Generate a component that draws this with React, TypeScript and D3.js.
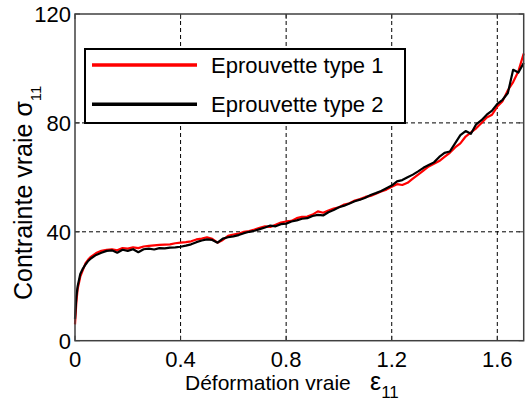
import React from "react";
import * as d3 from "d3";

const strain = [0, 0.005, 0.01, 0.02, 0.03, 0.04, 0.05, 0.06, 0.08, 0.1, 0.12, 0.14, 0.16, 0.18, 0.2, 0.22, 0.24, 0.26, 0.28, 0.3, 0.32, 0.34, 0.36, 0.38, 0.4, 0.42, 0.44, 0.46, 0.48, 0.5, 0.52, 0.54, 0.56, 0.58, 0.6, 0.62, 0.64, 0.66, 0.68, 0.7, 0.72, 0.74, 0.76, 0.78, 0.8, 0.82, 0.84, 0.86, 0.88, 0.9, 0.92, 0.94, 0.96, 0.98, 1.0, 1.02, 1.04, 1.06, 1.08, 1.1, 1.12, 1.14, 1.16, 1.18, 1.2, 1.22, 1.24, 1.26, 1.28, 1.3, 1.32, 1.34, 1.36, 1.38, 1.4, 1.42, 1.44, 1.46, 1.48, 1.5, 1.52, 1.54, 1.56, 1.58, 1.6, 1.62, 1.64, 1.66, 1.68, 1.7];

const stressType1 = [6, 14, 19, 23.5, 26, 28.5, 29.8, 30.8, 32.2, 33.0, 33.4, 33.6, 33.2, 34.0, 33.8, 34.3, 34.0, 34.6, 34.8, 35.0, 35.2, 35.3, 35.4, 35.8, 36.0, 36.2, 36.5, 37.2, 37.5, 38.0, 37.4, 36.0, 37.0, 38.5, 39.0, 39.3, 40.0, 40.3, 40.8, 41.5, 42.0, 41.8, 42.6, 43.4, 43.8, 44.0, 45.0, 45.5, 45.6, 46.3, 47.5, 47.0, 47.8, 48.5, 49.0, 50.0, 50.5, 51.5, 52.0, 52.8, 53.2, 54.0, 54.8, 55.5, 56.5, 57.5, 57.2, 58.0, 59.5, 61.0, 62.5, 64.0, 65.0, 66.0, 67.5, 69.0, 71.0, 72.5, 75.0, 76.5, 78.0, 80.0, 82.0, 83.0, 86.0, 88.0, 92.0, 95.0, 99.0, 105.5];

const stressType2 = [8, 16, 20, 24.5, 26.5, 28, 29.3, 30.2, 31.5, 32.3, 33.0, 33.2, 32.3, 33.4, 33.0, 33.6, 32.5, 33.6, 33.8, 33.5, 34.0, 33.9, 34.2, 34.3, 34.5, 34.9, 35.4, 36.2, 36.8, 37.2, 37.0, 36.0, 37.5, 38.0, 38.3, 38.8, 39.5, 40.0, 40.4, 41.0, 41.6, 42.3, 42.0, 42.8, 43.0, 43.8, 44.2, 44.8, 45.0, 45.8, 46.2, 46.0, 47.2, 48.0, 49.0, 49.6, 50.4, 51.2, 51.8, 52.5, 53.5, 54.2, 55.0, 56.0, 57.0, 58.5, 59.0, 60.0, 61.0, 62.2, 63.5, 64.5, 65.5, 67.5, 69.0, 69.5, 72.5, 75.5, 77.0, 76.0, 79.5, 81.0, 83.0, 84.5, 87.0, 88.5, 91.0, 99.5, 98.5, 102.0];

const xTicks = [0, 0.4, 0.8, 1.2, 1.6];
const xTickLabels = ["0", "0.4", "0.8", "1.2", "1.6"];
const yTicks = [0, 40, 80, 120];
const yTickLabels = ["0", "40", "80", "120"];
const seriesNames = ["Eprouvette type 1", "Eprouvette type 2"];
const seriesColors = ["#ff0000", "#000000"];

const FONT = "'Liberation Sans', Arial, sans-serif";

export default function App() {
  const W = 531, H = 409;
  const L = 75, R = 523.7, T = 14, B = 340.7;
  const x = d3.scaleLinear().domain([0, 1.7]).range([L, R]);
  const y = d3.scaleLinear().domain([0, 120]).range([B, T]);

  const line = d3.line<[number, number]>().x(d => x(d[0])).y(d => y(d[1]));
  const s1 = strain.map((e, i) => [e, stressType1[i]] as [number, number]);
  const s2 = strain.map((e, i) => [e, stressType2[i]] as [number, number]);

  return (
    <svg width={W} height={H} style={{ position: "absolute", left: 0, top: 0, background: "#fff" }} fontFamily={FONT}>
      <rect x={0} y={0} width={W} height={H} fill="#fff" />
      {xTicks.slice(1).map(t => (
        <line key={"gx" + t} x1={x(t)} x2={x(t)} y1={T} y2={B} stroke="#000" strokeWidth={1} strokeDasharray="4,3" />
      ))}
      {yTicks.slice(1, -1).map(t => (
        <line key={"gy" + t} x1={L} x2={R} y1={y(t)} y2={y(t)} stroke="#000" strokeWidth={1} strokeDasharray="4,3" />
      ))}
      {xTicks.map(t => (
        <g key={"tx" + t}>
          <line x1={x(t)} x2={x(t)} y1={B} y2={B - 5} stroke="#333" />
          <line x1={x(t)} x2={x(t)} y1={T} y2={T + 5} stroke="#333" />
        </g>
      ))}
      {yTicks.map(t => (
        <g key={"ty" + t}>
          <line x1={L} x2={L + 5} y1={y(t)} y2={y(t)} stroke="#333" />
          <line x1={R} x2={R - 5} y1={y(t)} y2={y(t)} stroke="#333" />
        </g>
      ))}
      <path d={line(s1) || ""} fill="none" stroke={seriesColors[0]} strokeWidth={2.2} strokeLinejoin="round" />
      <path d={line(s2) || ""} fill="none" stroke={seriesColors[1]} strokeWidth={2.2} strokeLinejoin="round" />
      <rect x={L} y={T} width={R - L} height={B - T} fill="none" stroke="#404040" strokeWidth={1.5} />
      {xTicks.map((t, i) => (
        <text key={"lx" + t} x={x(t)} y={366.5} textAnchor="middle" fontSize={22} fill="#000">{xTickLabels[i]}</text>
      ))}
      {yTicks.map((t, i) => (
        <text key={"ly" + t} x={71} y={y(t) + 8} textAnchor="end" fontSize={22} fill="#000">{yTickLabels[i]}</text>
      ))}
      <text x={185} y={390} fontSize={21} fill="#000">
        Déformation vraie<tspan x={370} fontSize={25}>ε</tspan><tspan fontSize={17} dy={8}>11</tspan>
      </text>
      <text transform="translate(32,300) rotate(-90)" fontSize={25} fill="#000">
        Contrainte vraie <tspan fontSize={25}>σ</tspan><tspan fontSize={15} dy={9}>11</tspan>
      </text>
      <rect x={85} y={49} width={320} height={74} fill="#fff" stroke="#000" strokeWidth={2} />
      {seriesNames.map((n, i) => {
        const ly = 65 + i * 39.3;
        return (
          <g key={n}>
            <line x1={92} x2={197} y1={ly} y2={ly} stroke={seriesColors[i]} strokeWidth={3.5} />
            <text x={211} y={ly + 7.5} fontSize={22} fill="#000">{n}</text>
          </g>
        );
      })}
    </svg>
  );
}
